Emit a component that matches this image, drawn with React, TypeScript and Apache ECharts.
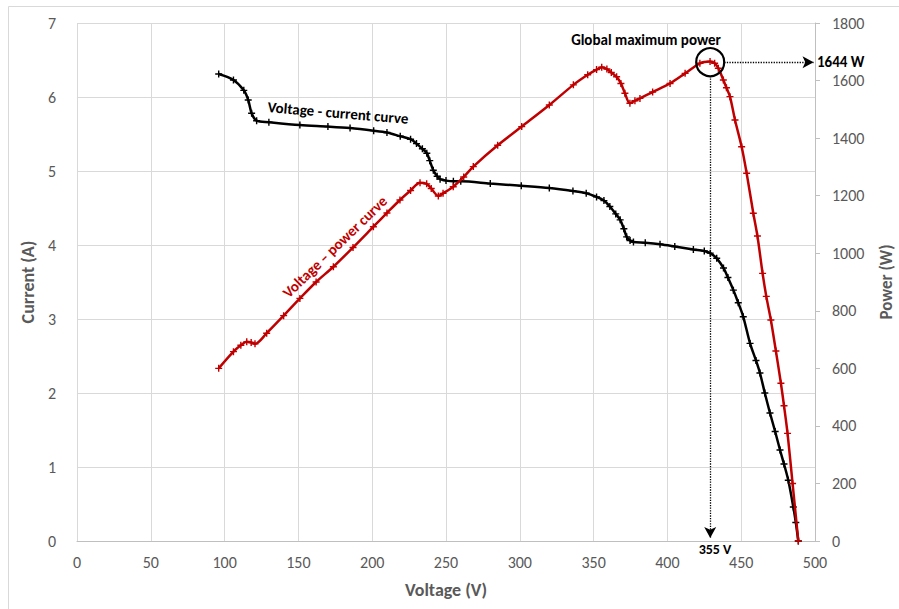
import React, { useEffect, useRef } from "react";
import * as echarts from "echarts";

const ivVoltage = [96, 106, 113, 116, 118.3, 121.7, 130, 151, 170, 185, 201, 210, 219, 226, 230, 234, 237, 239, 241.4, 244, 246, 250, 255, 260, 280, 301, 320, 336, 345, 352, 357, 361, 365, 368, 370.5, 372.4, 374.7, 377, 385, 395, 405, 417.6, 425, 429, 433.4, 438, 441, 444.7, 448, 451.4, 456, 460, 462.7, 466, 469.5, 473, 476.3, 479, 481.9, 485.3, 487, 488.7];
const ivCurrent = [6.31, 6.23, 6.09, 5.96, 5.78, 5.68, 5.66, 5.62, 5.6, 5.58, 5.545, 5.52, 5.47, 5.43, 5.37, 5.3, 5.24, 5.14, 5.01, 4.93, 4.89, 4.87, 4.86, 4.86, 4.83, 4.8, 4.77, 4.73, 4.7, 4.65, 4.6, 4.52, 4.42, 4.34, 4.22, 4.11, 4.06, 4.04, 4.03, 4.01, 3.98, 3.94, 3.92, 3.89, 3.82, 3.69, 3.56, 3.39, 3.22, 3.03, 2.67, 2.44, 2.27, 2.0, 1.73, 1.48, 1.23, 1.04, 0.82, 0.46, 0.25, 0.0];

const pvVoltage = [96, 106, 111, 115, 118, 120.6, 128.5, 140, 151, 162, 173.7, 187, 200.8, 210, 218.8, 226, 232.4, 236.9, 240, 244.8, 248, 254.9, 262, 268.5, 285, 301.3, 320, 336.3, 346, 352, 355.5, 359, 362, 365.6, 368.5, 371.2, 374.6, 378, 381.4, 390, 401.8, 412, 422, 428.9, 432, 434.5, 437.9, 440, 442.4, 445.8, 450.3, 453.7, 458.2, 461, 464.5, 467, 470.1, 473.5, 476.9, 479, 481.4, 484.8, 488.7];
const pvPower = [600, 658, 680, 692, 690, 685, 722, 783, 843, 900, 953, 1020, 1092, 1140, 1185, 1218, 1245, 1241, 1225, 1199, 1208, 1231, 1265, 1301, 1375, 1440, 1515, 1585, 1620, 1638, 1646, 1640, 1628, 1613, 1590, 1556, 1521, 1530, 1538, 1560, 1590, 1625, 1660, 1666, 1660, 1643, 1602, 1575, 1544, 1463, 1370, 1278, 1139, 1060, 930, 850, 768, 660, 548, 470, 374, 200, 0];

const mppVoltage = 429;
const mppPower = 1664;

const xTicks = [0, 50, 100, 150, 200, 250, 300, 350, 400, 450, 500];
const currentTicks = [0, 1, 2, 3, 4, 5, 6, 7];
const powerTicks = [0, 200, 400, 600, 800, 1000, 1200, 1400, 1600, 1800];

const FONT = "Carlito, Lato, sans-serif";
const PLUS = "path://M4,0h2v4h4v2h-4v4h-2v-4h-4v-2h4z";

export default function App() {
  const ref = useRef<HTMLDivElement>(null);
  useEffect(() => {
    document.body.style.margin = "0";
    if (!ref.current) return;
    const chart = echarts.init(ref.current, null, { renderer: "svg" });
    const axisLabel = { color: "#595959", fontSize: 16, fontFamily: FONT };
    const nameStyle = { color: "#595959", fontSize: 18, fontWeight: "bold" as const, fontFamily: FONT };
    chart.setOption({
      animation: false,
      backgroundColor: "#ffffff",
      grid: { left: 77, right: 84, top: 23, bottom: 68, containLabel: false, outerBoundsMode: "none" },
      xAxis: {
        type: "value",
        min: xTicks[0],
        max: xTicks[xTicks.length - 1],
        interval: 50,
        name: "Voltage (V)",
        nameLocation: "middle",
        nameGap: 40,
        nameTextStyle: nameStyle,
        axisLine: { show: true, lineStyle: { color: "#bfbfbf" } },
        axisTick: { show: false },
        axisLabel: { ...axisLabel, margin: 13, formatter: (v: number) => String(v) },
        splitLine: { show: true, lineStyle: { color: "#d9d9d9" } },
      },
      yAxis: [
        {
          type: "value",
          min: currentTicks[0],
          max: currentTicks[currentTicks.length - 1],
          interval: 1,
          name: "Current (A)",
          nameLocation: "middle",
          nameGap: 36,
          nameTextStyle: nameStyle,
          axisLine: { show: false },
          axisTick: { show: false },
          axisLabel: { ...axisLabel, margin: 21, formatter: (v: number) => String(v) },
          splitLine: { show: true, lineStyle: { color: "#d9d9d9" } },
        },
        {
          type: "value",
          position: "right",
          min: powerTicks[0],
          max: powerTicks[powerTicks.length - 1],
          interval: 200,
          name: "Power (W)",
          nameLocation: "middle",
          nameGap: 63,
          nameRotate: 90,
          nameTextStyle: { ...nameStyle, fontSize: 17 },
          axisLine: { show: true, lineStyle: { color: "#bfbfbf" } },
          axisTick: { show: true, length: 5, lineStyle: { color: "#bfbfbf" } },
          axisLabel: { ...axisLabel, margin: 17, formatter: (v: number) => String(v) },
          splitLine: { show: false },
        },
      ],
      series: [
        {
          type: "line",
          name: "Voltage - current curve",
          data: ivVoltage.map((v, i) => [v, ivCurrent[i]]),
          yAxisIndex: 0,
          smooth: 0.3,
          symbol: PLUS,
          symbolSize: 7,
          showAllSymbol: true,
          lineStyle: { color: "#000000", width: 2.5 },
          itemStyle: { color: "#000000" },
          z: 3,
        },
        {
          type: "line",
          name: "Voltage - power curve",
          data: pvVoltage.map((v, i) => [v, pvPower[i]]),
          yAxisIndex: 1,
          smooth: 0.3,
          symbol: PLUS,
          symbolSize: 7,
          showAllSymbol: true,
          lineStyle: { color: "#c00000", width: 2.5 },
          itemStyle: { color: "#c00000" },
          z: 4,
          markPoint: {
            silent: true,
            symbol: "circle",
            symbolSize: 28,
            itemStyle: { color: "rgba(0,0,0,0)", borderColor: "#000000", borderWidth: 2.2 },
            label: { show: false },
            data: [{ coord: [mppVoltage, mppPower] }],
          },
          markLine: {
            silent: true,
            symbol: ["none", "arrow"],
            symbolSize: [9, 11],
            label: { show: false },
            lineStyle: { color: "#000000", type: "dotted", width: 1.3 },
            data: [
              [{ coord: [mppVoltage, 1616] }, { coord: [mppVoltage, 10] }],
              [{ coord: [438.5, mppPower] }, { coord: [499, mppPower] }],
            ],
          },
        },
      ],
      graphic: [
        {
          type: "rect",
          shape: { x: 8.5, y: 6.5, width: 900, height: 610 },
          style: { fill: "none", stroke: "#d9d9d9", lineWidth: 1 },
          silent: true,
          z: -10,
        },
        {
          type: "text",
          x: 338,
          y: 113,
          rotation: -0.084,
          style: { text: "Voltage - current curve", fill: "#000000", font: `bold 15px ${FONT}`, align: "center", verticalAlign: "middle" },
          z: 10,
        },
        {
          type: "text",
          x: 335,
          y: 247,
          rotation: 0.77,
          style: { text: "Voltage – power curve", fill: "#c00000", font: `bold 15px ${FONT}`, align: "center", verticalAlign: "middle" },
          z: 10,
        },
        {
          type: "text",
          x: 646,
          y: 40,
          style: { text: "Global maximum power", fill: "#000000", font: `bold 15px ${FONT}`, align: "center", verticalAlign: "middle" },
          z: 10,
        },
        {
          type: "text",
          x: 817,
          y: 62,
          style: { text: "1644 W", fill: "#000000", font: `bold 15px ${FONT}`, align: "left", verticalAlign: "middle" },
          z: 10,
        },
        {
          type: "text",
          x: 715,
          y: 549,
          style: { text: "355 V", fill: "#000000", font: `bold 14px ${FONT}`, align: "center", verticalAlign: "middle" },
          z: 10,
        },
      ],
    });
    return () => chart.dispose();
  }, []);
  return <div ref={ref} style={{ width: 899, height: 609 }} />;
}
